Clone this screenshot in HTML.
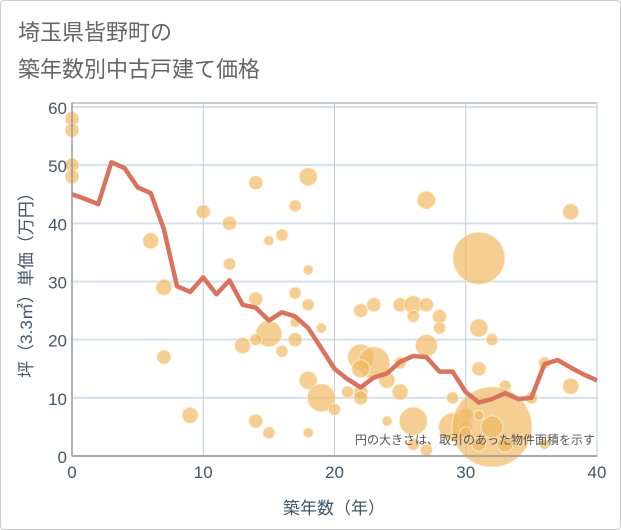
<!DOCTYPE html>
<html><head><meta charset="utf-8"><style>
body{margin:0;background:#fff;font-family:"Liberation Sans","Noto Sans CJK JP",sans-serif;}
#wrap{position:relative;width:619px;height:528px;border:1px solid #ccc;border-radius:4px;overflow:hidden;}
</style></head><body>
<div id="wrap">
<svg id="chart" width="621" height="530" style="position:absolute;left:-1px;top:-1px">
<text x="18" y="40" font-size="22" fill="#666">埼玉県皆野町の</text>
<text x="18" y="77" font-size="22" fill="#666">築年数別中古戸建て価格</text>
<g id="grid"></g><g id="bubbles"></g><g id="line"></g><g id="axes"></g>
<text x="595" y="444" font-size="12" fill="#555" text-anchor="end">円の大きさは、取引のあった物件面積を示す</text>
<text x="334" y="514" font-size="17" fill="#456" text-anchor="middle">築年数（年）</text>
<text transform="translate(32,281) rotate(-90)" font-size="17" fill="#456" text-anchor="middle">坪（3.3㎡）単価（万円）</text>
</svg></div>
<script>
const xTicks=[0,10,20,30,40];
const yTicks=[0,10,20,30,40,50,60];
const lineYears=[0,1,2,3,4,5,6,7,8,9,10,11,12,13,14,15,16,17,18,19,20,21,22,23,24,25,26,27,28,29,30,31,32,33,34,35,36,37,38,39,40];
const linePrices=[45,44.2,43.3,50.5,49.5,46.2,45.2,39,29.2,28.2,30.7,27.8,30.2,26,25.5,23.3,24.7,24,22,18.5,15,13.2,11.8,13.5,14.2,16.2,17.2,17,14.5,14.5,11,9.2,9.8,10.8,9.8,10,15.8,16.5,15.2,14,13];
const bubbleX=[0,0,0,0,6,7,7,9,10,12,12,14,14,15,14,13,15,16,17,18,17,18,17,16,18,19,17,18,19,20,14,15,18,27,38,31,22,23,25,26,27,26,28,28,31,32,27,22,23,22,24,25,31,33,35,38,36,22,22,25,21,29,26,24,29,30,30,32,32,26,27,33,31,36,30,31];
const bubbleY=[58,56,50,48,37,29,17,7,42,40,33,47,27,21,20,19,37,38,43,48,28,26,20,18,32,22,23,13,10,8,6,4,4,44,42,34,25,26,26,26,26,24,24,22,22,20,19,17,16,15,13,16,15,12,10,12,16,11,10,11,11,10,6,6,5,7,5,5,5,2,1,2,7,2,4,2];
const bubbleR=[7,7,7,7,8,8,7,8,7,7,6,7,7,13,6,8,5,6,6,9,6,6,7,6,5,5,5,9,14,6,7,6,5,9,8,26,7,7,7,9,7,6,7,6,9,6,11,13,16,9,8,6,7,6,6,8,6,7,7,8,6,6,14,5,14,7,7,40,11,6,6,8,5,5,6,7];
const L=72,R=597,T=107,B=456;
const xs=v=>L+(v-0)/40*(R-L), ys=v=>B-v/60*(B-T);
const NS="http://www.w3.org/2000/svg";
function mk(tag,attrs,parent){const e=document.createElementNS(NS,tag);for(const k in attrs)e.setAttribute(k,attrs[k]);parent.appendChild(e);return e;}
const grid=document.getElementById('grid'),axes=document.getElementById('axes');
mk('rect',{x:L,y:T-4,width:R-L,height:B-T+4,fill:'none',stroke:'#999','stroke-width':1},grid);
yTicks.forEach(t=>{
 const g=mk('line',{x1:L,x2:R,y1:ys(t),y2:ys(t),stroke:'#d5e0ec','stroke-width':2},grid);
 
 
 const tx=mk('text',{x:L-5,y:ys(t)+7,'font-size':17,fill:'#456','text-anchor':'end'},axes);
 tx.textContent=t;
 
 
});
xTicks.forEach(t=>{
 const g=mk('line',{x1:xs(t),x2:xs(t),y1:T-4,y2:B,stroke:'#c0cad8','stroke-width':1},grid);
 
 
 const tx=mk('text',{x:xs(t),y:B+22,'font-size':17,fill:'#456','text-anchor':'middle'},axes);
 tx.textContent=t;
 
 
});
mk('line',{x1:L,x2:R,y1:B,y2:B,stroke:'#999','stroke-width':1.5},axes);
mk('line',{x1:L,x2:L,y1:T-4,y2:B,stroke:'#999','stroke-width':1.5},axes);
const bg=document.getElementById('bubbles');
bubbleX.forEach((x,i)=>{
 const c=mk('circle',{cx:xs(x),cy:ys(bubbleY[i]),r:bubbleR[i],fill:'rgba(240,185,100,0.7)',stroke:'rgba(255,240,215,0.8)','stroke-width':1},bg);
 
 
});
const p=mk('polyline',{points:lineYears.map((y,i)=>xs(y)+','+ys(linePrices[i])).join(' '),fill:'none',stroke:'#d9735e','stroke-width':4.5,'stroke-linejoin':'round'},document.getElementById('line'));


</script>
</body></html>
